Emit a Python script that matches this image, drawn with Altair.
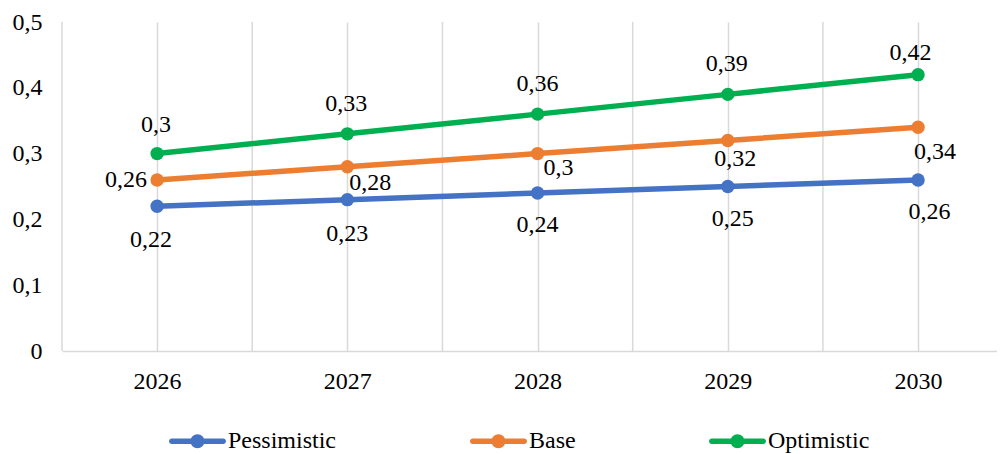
import altair as alt
import pandas as pd

# ---- data ----
years = [2026, 2027, 2028, 2029, 2030]
series_names = ["Pessimistic", "Base", "Optimistic"]
pessimistic = [0.22, 0.23, 0.24, 0.25, 0.26]
base = [0.26, 0.28, 0.30, 0.32, 0.34]
optimistic = [0.30, 0.33, 0.36, 0.39, 0.42]
y_ticks = [0, 0.1, 0.2, 0.3, 0.4, 0.5]

# ---- style ----
colors = ["#4472C4", "#ED7D31", "#00B050"]
FONT = "Liberation Serif"
FS = 24
GRID = "#d9d9d9"
# per-point label offsets in pixels (Excel-style manual placement)
label_dx = {
    "Pessimistic": [-6, 0, 0, 5, 11.5],
    "Base": [-31, 23, 21, 7.5, 17],
    "Optimistic": [-1, -1, 0, -1, -7.5],
}
label_dy = {
    "Pessimistic": [34, 34, 32, 32.5, 32.5],
    "Base": [0, 16, 14, 18.5, 24.5],
    "Optimistic": [-29, -30, -30, -30.5, -22],
}

rows = []
for name, vals in zip(series_names, [pessimistic, base, optimistic]):
    for yr, v in zip(years, vals):
        rows.append({"series": name, "year": yr, "value": v})
df = pd.DataFrame(rows)

# category boundaries (Excel draws gridlines between categories too)
bounds = pd.DataFrame({"year": [yr - 0.5 for yr in years]})

xscale = alt.Scale(domain=[years[0] - 0.5, 2030.415], nice=False, zero=False)
yscale = alt.Scale(domain=[0, 0.5], nice=False)
color_scale = alt.Scale(domain=series_names, range=colors)

x_axis = alt.Axis(
    values=years,
    format="d",
    grid=True,
    gridColor=GRID,
    gridWidth=1.5,
    domainColor=GRID,
    domainWidth=1.5,
    ticks=False,
    labelFont=FONT,
    labelFontSize=FS,
    labelColor="black",
    labelPadding=18,
    labelFlush=False,
    labelOverlap=False,
    title=None,
)
y_axis = alt.Axis(
    values=y_ticks,
    labelExpr="replace(format(datum.value, '.1~f'), '.', ',')",
    grid=False,
    domain=False,
    ticks=False,
    labelFont=FONT,
    labelFontSize=FS,
    labelColor="black",
    labelPadding=20,
    labelBaseline="middle",
    labelFlush=False,
    labelOverlap=False,
    title=None,
)
x_enc = alt.X("year:Q", scale=xscale, axis=x_axis)
y_enc = alt.Y("value:Q", scale=yscale, axis=y_axis)

legend_symbol = (
    "M-0.9,-0.1 L0.9,-0.1 A0.1,0.1 0 0,1 0.9,0.1 L-0.9,0.1 "
    "A0.1,0.1 0 0,1 -0.9,-0.1 Z "
    "M0.245,0 A0.245,0.245 0 1,1 -0.245,0 A0.245,0.245 0 1,1 0.245,0 Z"
)
legend = alt.Legend(
    orient="none",
    legendX=107,
    legendY=390.5,
    direction="horizontal",
    title=None,
    symbolType=legend_symbol,
    symbolSize=3249,
    symbolStrokeWidth=0,
    symbolOpacity=1,
    labelFont=FONT,
    labelFontSize=FS,
    labelColor="black",
    labelOffset=2,
    columnPadding=133,
    padding=0,
)
color_enc = alt.Color("series:N", scale=color_scale, legend=legend)

boundary_rules = (
    alt.Chart(bounds)
    .mark_rule(color=GRID, strokeWidth=1.5)
    .encode(x=x_enc)
)

basechart = alt.Chart(df)
lines = basechart.mark_line(strokeWidth=5.5, strokeCap="round").encode(
    x=x_enc, y=y_enc, color=color_enc, detail="series:N"
)
points = basechart.mark_point(filled=True, size=180, opacity=1).encode(
    x=x_enc, y=y_enc, color=color_enc
)

label_layers = []
for name in series_names:
    for j, yr in enumerate(years):
        lay = (
            basechart.transform_filter(
                (alt.datum.series == name) & (alt.datum.year == yr)
            )
            .transform_calculate(
                label="replace(format(datum.value, '.2~f'), '.', ',')"
            )
            .mark_text(
                font=FONT,
                fontSize=FS,
                color="black",
                align="center",
                baseline="middle",
                dx=label_dx[name][j],
                dy=label_dy[name][j],
            )
            .encode(x=x_enc, y=y_enc, text="label:N")
        )
        label_layers.append(lay)

chart = (
    alt.layer(boundary_rules, lines, points, *label_layers)
    .properties(
        width=935,
        height=329,
        padding={"left": 54, "top": 14, "right": 0, "bottom": 103},
        autosize=alt.AutoSizeParams(type="none"),
        background="white",
    )
    .configure_view(stroke=None)
)

chart.save("out.html", embed_options={"renderer": "svg", "actions": False})
